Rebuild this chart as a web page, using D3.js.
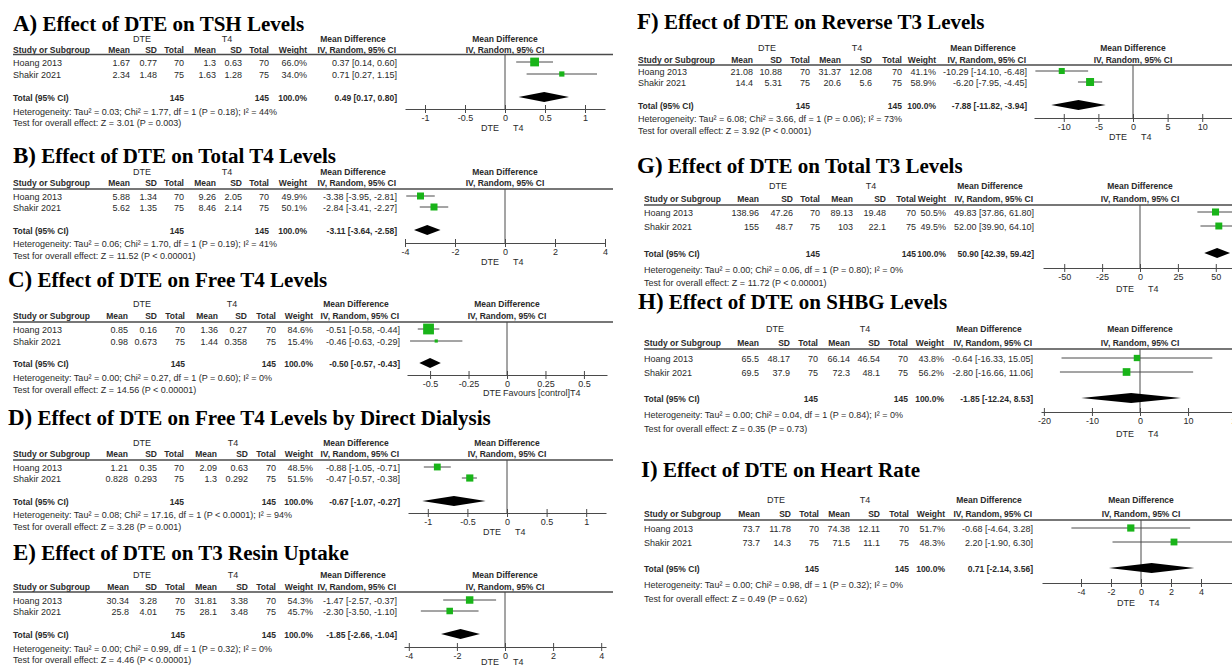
<!DOCTYPE html>
<html><head><meta charset="utf-8">
<script src="https://cdn.jsdelivr.net/npm/d3@7"></script>
<style>
body{margin:0;background:#fff}
svg text{font-family:"Liberation Sans",Arial,sans-serif;fill:#2a2a2a}
</style>
</head><body>
<svg id="chart" width="1232" height="666"></svg>
<script>
// ---------- DATA ----------
const panelLetters = ["A)","B)","C)","D)","E)","F)","G)","H)","I)"];
const panelTitles = [
  "Effect of DTE  on TSH Levels",
  "Effect of DTE  on Total T4 Levels",
  "Effect of DTE  on Free T4 Levels",
  "Effect of DTE  on Free T4 Levels by Direct Dialysis",
  "Effect of DTE  on T3 Resin Uptake",
  "Effect of DTE  on Reverse T3 Levels",
  "Effect of DTE  on Total T3 Levels",
  "Effect of DTE  on SHBG Levels",
  "Effect of DTE on Heart Rate"
];
const studyNames = ["Hoang 2013","Shakir 2021"];
const dteMean = [[1.67,2.34],[5.88,5.62],[0.85,0.98],[1.21,0.828],[30.34,25.8],[21.08,14.4],[138.96,155],[65.5,69.5],[73.7,73.7]];
const dteSD   = [[0.77,1.48],[1.34,1.35],[0.16,0.673],[0.35,0.293],[3.28,4.01],[10.88,5.31],[47.26,48.7],[48.17,37.9],[11.78,14.3]];
const dteN    = [70,75];
const t4Mean  = [[1.3,1.63],[9.26,8.46],[1.36,1.44],[2.09,1.3],[31.81,28.1],[31.37,20.6],[89.13,103],[66.14,72.3],[74.38,71.5]];
const t4SD    = [[0.63,1.28],[2.05,2.14],[0.27,0.358],[0.63,0.292],[3.38,3.48],[12.08,5.6],[19.48,22.1],[46.54,48.1],[12.11,11.1]];
const t4N     = [70,75];
const totalN  = 145;
const weights = [[66.0,34.0],[49.9,50.1],[84.6,15.4],[48.5,51.5],[54.3,45.7],[41.1,58.9],[50.5,49.5],[43.8,56.2],[51.7,48.3]];
const mdValue = [[0.37,0.71],[-3.38,-2.84],[-0.51,-0.46],[-0.88,-0.47],[-1.47,-2.30],[-10.29,-6.20],[49.83,52.00],[-0.64,-2.80],[-0.68,2.20]];
const mdLow   = [[0.14,0.27],[-3.95,-3.41],[-0.58,-0.63],[-1.05,-0.57],[-2.57,-3.50],[-14.10,-7.95],[37.86,39.90],[-16.33,-16.66],[-4.64,-1.90]];
const mdHigh  = [[0.60,1.15],[-2.81,-2.27],[-0.44,-0.29],[-0.71,-0.38],[-0.37,-1.10],[-6.48,-4.45],[61.80,64.10],[15.05,11.06],[3.28,6.30]];
const totalMD   = [0.49,-3.11,-0.50,-0.67,-1.85,-7.88,50.90,-1.85,0.71];
const totalLow  = [0.17,-3.64,-0.57,-1.07,-2.66,-11.82,42.39,-12.24,-2.14];
const totalHigh = [0.80,-2.58,-0.43,-0.27,-1.04,-3.94,59.42,8.53,3.56];
const hetText = [
  "Heterogeneity: Tau² = 0.03; Chi² = 1.77, df = 1 (P = 0.18); I² = 44%",
  "Heterogeneity: Tau² = 0.06; Chi² = 1.70, df = 1 (P = 0.19); I² = 41%",
  "Heterogeneity: Tau² = 0.00; Chi² = 0.27, df = 1 (P = 0.60); I² = 0%",
  "Heterogeneity: Tau² = 0.08; Chi² = 17.16, df = 1 (P < 0.0001); I² = 94%",
  "Heterogeneity: Tau² = 0.00; Chi² = 0.99, df = 1 (P = 0.32); I² = 0%",
  "Heterogeneity: Tau² = 6.08; Chi² = 3.66, df = 1 (P = 0.06); I² = 73%",
  "Heterogeneity: Tau² = 0.00; Chi² = 0.06, df = 1 (P = 0.80); I² = 0%",
  "Heterogeneity: Tau² = 0.00; Chi² = 0.04, df = 1 (P = 0.84); I² = 0%",
  "Heterogeneity: Tau² = 0.00; Chi² = 0.98, df = 1 (P = 0.32); I² = 0%"
];
const effectText = [
  "Test for overall effect: Z = 3.01 (P = 0.003)",
  "Test for overall effect: Z = 11.52 (P < 0.00001)",
  "Test for overall effect: Z = 14.56 (P < 0.00001)",
  "Test for overall effect: Z = 3.28 (P = 0.001)",
  "Test for overall effect: Z = 4.46 (P < 0.00001)",
  "Test for overall effect: Z = 3.92 (P < 0.0001)",
  "Test for overall effect: Z = 11.72 (P < 0.00001)",
  "Test for overall effect: Z = 0.35 (P = 0.73)",
  "Test for overall effect: Z = 0.49 (P = 0.62)"
];
const axisDomainMax = [1.25,4,0.65,1.25,4.2,14.3,64,20.6,6.6];
const tickValues = [[-1,-0.5,0,0.5,1],[-4,-2,0,2,4],[-0.5,-0.25,0,0.25,0.5],[-1,-0.5,0,0.5,1],[-4,-2,0,2,4],[-10,-5,0,5,10],[-50,-25,0,25,50],[-20,-10,0,10,20],[-4,-2,0,2,4]];
const tickLabels = [["-1","-0.5","0","0.5","1"],["-4","-2","0","2","4"],["-0.5","-0.25","0","0.25","0.5"],["-1","-0.5","0","0.5","1"],["-4","-2","0","2","4"],["-10","-5","0","5","10"],["-50","-25","0","25","50"],["-20","-10","0","10","20"],["-4","-2","0","2","4"]];
const leftAxisLabel = ["DTE","DTE","DTE","DTE","DTE","DTE","DTE","DTE","DTE"];
const rightAxisLabel = ["T4","T4","Favours [control]T4","T4","T4","T4","T4","T4","T4"];
const groupLabels = ["DTE","T4"];
const colHeaders = ["Mean","SD","Total","Mean","SD","Total","Weight"];

// ---------- LAYOUT ----------
const layouts = [
  {tx:13, ty:31, sx:13, cols:[130,157,184,216,242,269,307,397], grp:39, hdr:50, line:54.5, rows:[63,75], tot:98, het:112, eff:123, axis:109, range:[405,605], lineEnd:613, rOff:8, lab:19},
  {tx:13, ty:163, sx:13, cols:[130,157,184,216,242,269,307,397], grp:172, hdr:183, line:189, rows:[197,208], tot:231, het:244, eff:256, axis:243, range:[405,605], lineEnd:613, rOff:8, lab:19},
  {tx:8, ty:287, sx:13, cols:[128,157,185,218,247,276,313,400], grp:304, hdr:316, line:322, rows:[330,342], tot:364, het:378, eff:390, axis:375, range:[407,607], lineEnd:613, rOff:-4, lab:18},
  {tx:8, ty:425, sx:13, cols:[128,157,184,217,248,276,313,400], grp:443, hdr:454, line:460, rows:[468,479], tot:502, het:515, eff:527, axis:513, range:[408,606], lineEnd:613, rOff:8, lab:19},
  {tx:13, ty:560, sx:13, cols:[129,157,185,217,248,276,313,397], grp:575, hdr:587, line:592, rows:[601,612], tot:635, het:649, eff:660, axis:647, range:[404,606], lineEnd:613, rOff:8, lab:15},
  {tx:637, ty:29, sx:638, cols:[753,782,810,841,872,902,936,1027], grp:48, hdr:60, line:65, rows:[72,83], tot:106, het:119, eff:131, axis:118, range:[1034,1232], lineEnd:1232, rOff:8, lab:19},
  {tx:637, ty:173, sx:644, cols:[759,793,820,853,886,916,946,1034], grp:186, hdr:199, line:205, rows:[213,227], tot:254, het:270, eff:283, axis:268, range:[1043,1237], lineEnd:1232, rOff:8, lab:21},
  {tx:638, ty:309, sx:644, cols:[759,790,818,850,880,908,944,1033], grp:329, hdr:343, line:349, rows:[359,373], tot:399, het:415, eff:429, axis:412, range:[1041,1239], lineEnd:1232, rOff:8, lab:22},
  {tx:641, ty:477, sx:644, cols:[760,791,819,850,880,909,945,1033], grp:500, hdr:514, line:520, rows:[529,543], tot:569, het:585, eff:599, axis:583, range:[1042,1240], lineEnd:1232, rOff:8, lab:20}
];

const svg = d3.select("#chart");
const FS = 9;        // table font size
const HFS = 8.5;     // bold header font size
const BL = 3.2;      // baseline offset from row centre
const green = "#19b419";
const lineCol = "#4a4a4a";
const f2 = v => v.toFixed(2);

function txt(g, x, y, s, anchor, bold, size) {
  return g.append("text").attr("x", x).attr("y", y + BL)
    .attr("font-size", size || FS).attr("text-anchor", anchor || "start")
    .attr("font-weight", bold ? "bold" : "normal").text(s);
}

panelTitles.forEach((title, i) => {
  const L = layouts[i];
  const g = svg.append("g");
  // title
  const t = g.append("text").attr("x", L.tx).attr("y", L.ty)
    .style("font-family", "'Liberation Serif','Times New Roman',serif")
    .style("fill", "#000").attr("font-weight", "bold");
  t.append("tspan").attr("font-size", 23).text(panelLetters[i]);
  t.append("tspan").attr("font-size", 21).text(" " + title);

  const c = L.cols;
  // group headers
  txt(g, c[1] - 15, L.grp, groupLabels[0], "middle");
  txt(g, c[4] - 15, L.grp, groupLabels[1], "middle");
  txt(g, c[7] - 44, L.grp, "Mean Difference", "middle", true, HFS);
  // column headers
  txt(g, L.sx, L.hdr, "Study or Subgroup", "start", true, HFS);
  colHeaders.forEach((h, k) => txt(g, c[k], L.hdr, h, "end", true, HFS));
  txt(g, c[7] - 1, L.hdr, "IV, Random, 95% CI", "end", true, HFS);

  // plot scale
  const x = d3.scaleLinear().domain([-axisDomainMax[i], axisDomainMax[i]]).range(L.range);
  const x0 = x(0);
  txt(g, x0, L.grp, "Mean Difference", "middle", true, HFS);
  txt(g, x0, L.hdr, "IV, Random, 95% CI", "middle", true, HFS);

  // header rule
  g.append("line").attr("x1", L.sx).attr("x2", L.lineEnd).attr("y1", L.line).attr("y2", L.line)
    .attr("stroke", lineCol).attr("stroke-width", 1.4);

  // zero line
  g.append("line").attr("x1", x0).attr("x2", x0).attr("y1", L.line).attr("y2", L.axis)
    .attr("stroke", lineCol).attr("stroke-width", 1);

  // study rows
  studyNames.forEach((name, j) => {
    const y = L.rows[j];
    txt(g, L.sx, y, name);
    txt(g, c[0], y, String(dteMean[i][j]), "end");
    txt(g, c[1], y, String(dteSD[i][j]), "end");
    txt(g, c[2], y, String(dteN[j]), "end");
    txt(g, c[3], y, String(t4Mean[i][j]), "end");
    txt(g, c[4], y, String(t4SD[i][j]), "end");
    txt(g, c[5], y, String(t4N[j]), "end");
    txt(g, c[6], y, weights[i][j].toFixed(1) + "%", "end");
    txt(g, c[7], y, f2(mdValue[i][j]) + " [" + f2(mdLow[i][j]) + ", " + f2(mdHigh[i][j]) + "]", "end");
    // CI line and square
    const yy = y - 1;
    g.append("line").attr("x1", x(mdLow[i][j])).attr("x2", x(mdHigh[i][j]))
      .attr("y1", yy).attr("y2", yy).attr("stroke", lineCol).attr("stroke-width", 1);
    const s = 1.5 + 0.11 * weights[i][j];
    g.append("rect").attr("x", x(mdValue[i][j]) - s / 2).attr("y", yy - s / 2)
      .attr("width", s).attr("height", s).attr("fill", green);
  });

  // total row
  txt(g, L.sx, L.tot, "Total (95% CI)", "start", true, HFS);
  txt(g, c[2], L.tot, String(totalN), "end", true, HFS);
  txt(g, c[5], L.tot, String(totalN), "end", true, HFS);
  txt(g, c[6], L.tot, "100.0%", "end", true, HFS);
  txt(g, c[7], L.tot, f2(totalMD[i]) + " [" + f2(totalLow[i]) + ", " + f2(totalHigh[i]) + "]", "end", true, HFS);
  const dy = L.tot - 1, h = 5;
  g.append("path").attr("d",
    `M${x(totalLow[i])},${dy} L${x(totalMD[i])},${dy - h} L${x(totalHigh[i])},${dy} L${x(totalMD[i])},${dy + h} Z`)
    .attr("fill", "#000");

  txt(g, L.sx, L.het, hetText[i]);
  txt(g, L.sx, L.eff, effectText[i]);

  // axis
  const ax = g.append("g").attr("transform", `translate(0,${L.axis})`)
    .call(d3.axisBottom(x).tickValues(tickValues[i])
      .tickFormat((d, k) => tickLabels[i][k]).tickSizeInner(4).tickSizeOuter(0).tickPadding(2));
  ax.select(".domain").attr("stroke", lineCol);
  ax.selectAll(".tick line").attr("y1", -4).attr("y2", 4).attr("stroke", lineCol);
  ax.selectAll(".tick text").attr("font-size", FS).attr("fill", "#2a2a2a")
    .style("font-family", "'Liberation Sans',Arial,sans-serif");

  txt(g, x0 - 6, L.axis + L.lab, leftAxisLabel[i], "end");
  txt(g, x0 + L.rOff, L.axis + L.lab, rightAxisLabel[i], "start");
});
</script>
</body></html>
